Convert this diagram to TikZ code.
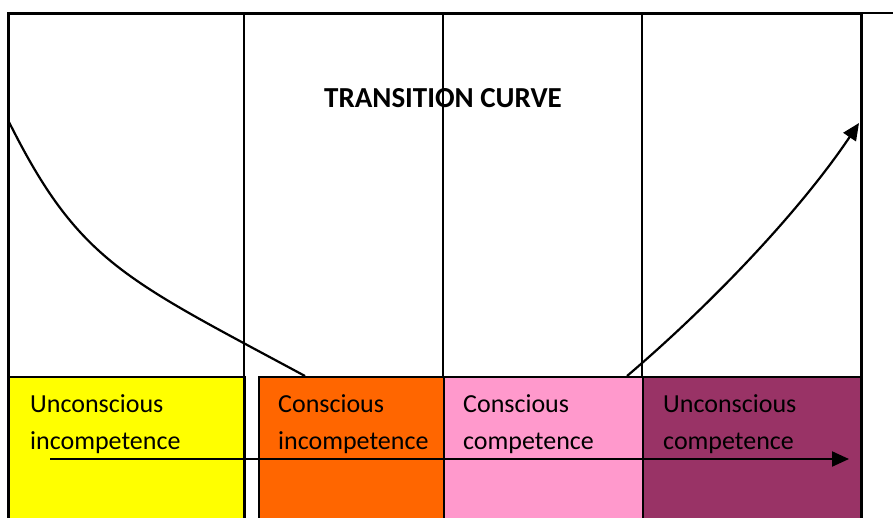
\documentclass[tikz,border=0pt]{standalone}
\usepackage{fontspec}
\setmainfont{Carlito}
\usetikzlibrary{arrows.meta}
\definecolor{cyellow}{HTML}{FFFF00}
\definecolor{corange}{HTML}{FF6600}
\definecolor{cpink}{HTML}{FF99CC}
\definecolor{cpurple}{HTML}{993366}
\tikzset{
  frame/.style={line width=3pt},
  divider/.style={line width=1.6pt},
  stagebox/.style={draw=black, line width=1.6pt, rectangle, inner sep=0pt, anchor=north west, minimum height=150pt},
  stagetext/.style={anchor=base west, align=left, inner sep=0pt, font=\fontsize{26}{36.5}\selectfont},
  curve/.style={line width=2.2pt},
  tip/.style={-{Triangle[length=17pt,width=15pt]}}
}
\begin{document}
\begin{tikzpicture}[x=1pt,y=-1pt]
\useasboundingbox (0,0) rectangle (893,517);
% stage boxes
\node[stagebox, fill=cyellow, minimum width=236pt] (b1) at (8,376) {};
\node[stagebox, fill=corange, minimum width=185pt] (b2) at (258,376) {};
\node[stagebox, fill=cpink, minimum width=199pt] (b3) at (443,376) {};
\node[stagebox, fill=cpurple, minimum width=218pt] (b4) at (642,376) {};
% frame and dividers
\coordinate (tl) at (8,13);
\coordinate (tr) at (861,13);
\coordinate (te) at (893,13);
\coordinate (bl) at (8,520);
\coordinate (br) at (861,520);
\draw[frame] (bl) -- (tl) -- (tr) -- (br);
\draw[line width=2pt] (tr) -- (te);
\coordinate (d1t) at (244,13); \coordinate (d1b) at (244,520);
\coordinate (d2t) at (443,13); \coordinate (d2b) at (443,376);
\coordinate (d3t) at (642,13); \coordinate (d3b) at (642,376);
\draw[divider] (d1t) -- (d1b);
\draw[divider] (d2t) -- (d2b);
\draw[divider] (d3t) -- (d3b);
% title
\node[anchor=base, inner sep=0pt, font=\fontsize{29}{34}\selectfont\bfseries] (title) at (443,107) {TRANSITION CURVE};
% texts (anchor = baseline of last line)
\node[stagetext] (t1) at (30,449) {Unconscious\\incompetence};
\node[stagetext] (t2) at (278,449) {Conscious\\incompetence};
\node[stagetext] (t3) at (463,449) {Conscious\\competence};
\node[stagetext] (t4) at (663,449) {Unconscious\\competence};
% curves
\coordinate (c1s) at (9,122);
\coordinate (c1e) at (305,376);
\draw[curve] (c1s) .. controls (79,262) and (125,279) .. (c1e);
\coordinate (c2s) at (627,376);
\coordinate (c2e) at (859,123);
\draw[curve, tip] (c2s) .. controls (707,308) and (798,214) .. (c2e);
% horizontal arrow
\coordinate (hs) at (50,459);
\coordinate (he) at (849,459);
\draw[curve, tip] (hs) -- (he);
\end{tikzpicture}
\end{document}
